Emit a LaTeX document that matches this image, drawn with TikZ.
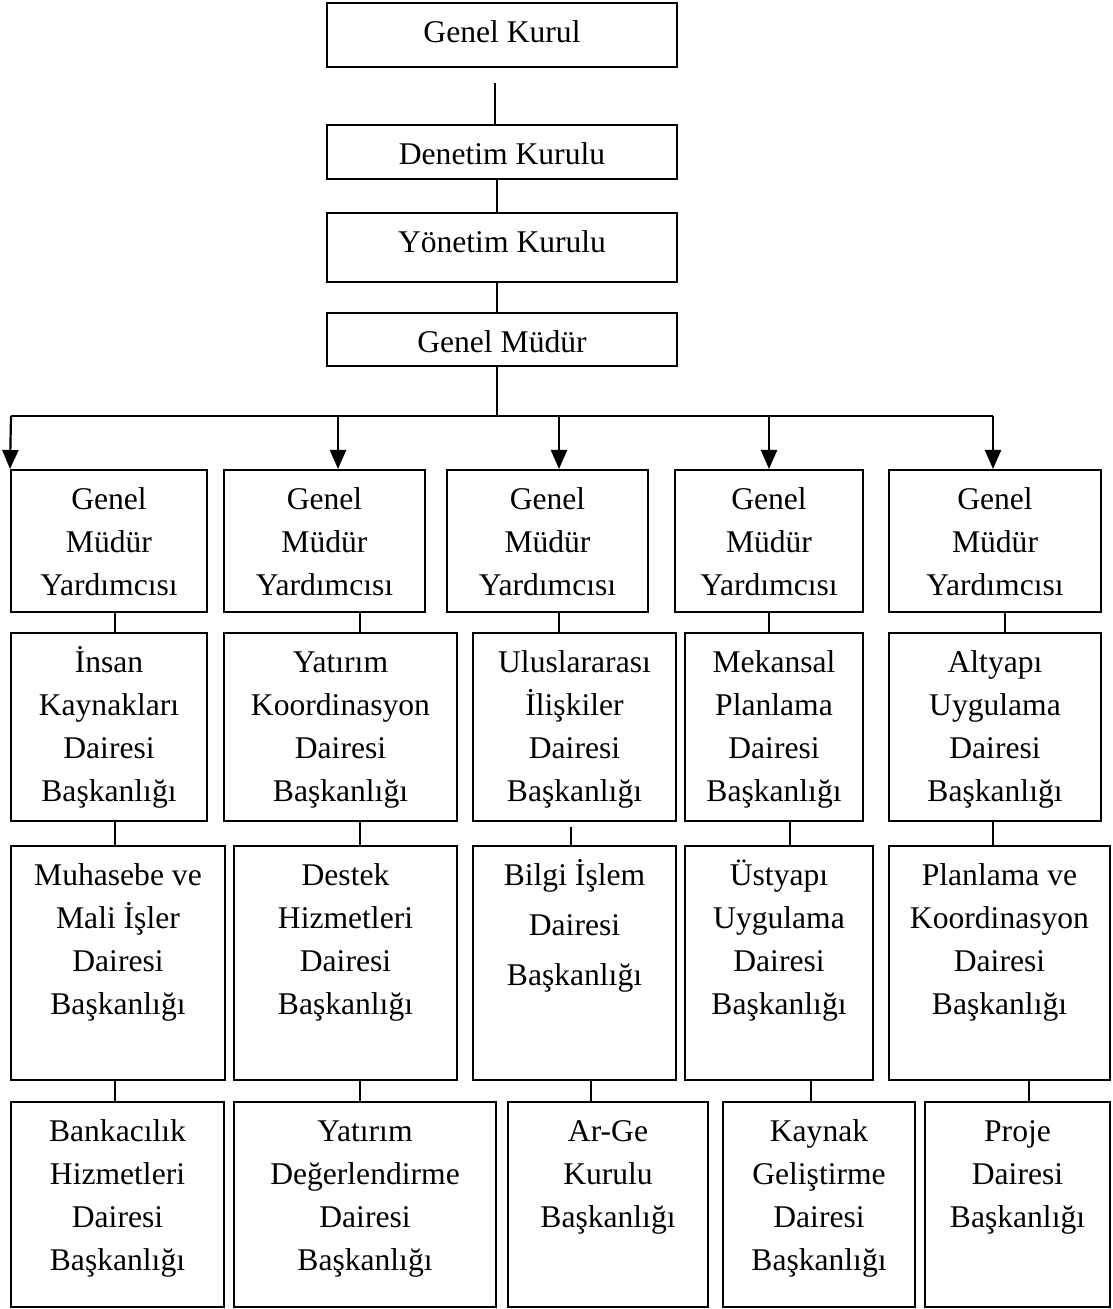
\documentclass[tikz,border=0pt]{standalone}
\usepackage{fontspec}
\setmainfont{Liberation Serif}
\usetikzlibrary{arrows.meta,fit}

\tikzset{
  unit/.style={draw, line width=1pt, inner sep=0pt},
  unittext/.style={anchor=north, align=center, inner sep=0pt, font=\fontsize{15.8}{21.5}\selectfont},
  link/.style={line width=0.7pt},
  bus/.style={line width=0.9pt},
  down/.style={line width=1.1pt, -{Triangle[length=9.5pt,width=8pt]}},
}

% box from corner (x1,y1) to (x2,y2), text hung from the top edge
\newcommand{\orgbox}[6]{%
  \node[unit, fit={(#2,#3) (#4,#5)}] (#1) {};
  \node[unittext] (#1-t) at ([yshift=-5pt]#1.north) {\rule{0pt}{15pt}#6};
}

\begin{document}
\begin{tikzpicture}[x=0.5pt,y=-0.5pt]
\useasboundingbox (0,0) rectangle (1112,1309);

% top of the chart
\orgbox{gk}{327}{3}{677}{67}{Genel Kurul}
\orgbox{dk}{327}{125}{677}{179}{Denetim Kurulu}
\orgbox{yk}{327}{213}{677}{282}{Yönetim Kurulu}
\orgbox{gm}{327}{313}{677}{366}{Genel Müdür}

\coordinate (gk-foot) at (495,83);
\draw[link] (gk-foot) -- (dk.north -| gk-foot);
\draw[link] (dk.south -| 497,0) -- (yk.north -| 497,0);
\draw[link] (yk.south -| 497,0) -- (gm.north -| 497,0);

% row 1
\orgbox{a1}{11}{470}{207}{612}{Genel\\Müdür\\Yardımcısı}
\orgbox{a2}{224}{470}{425}{612}{Genel\\Müdür\\Yardımcısı}
\orgbox{a3}{447}{470}{648}{612}{Genel\\Müdür\\Yardımcısı}
\orgbox{a4}{675}{470}{863}{612}{Genel\\Müdür\\Yardımcısı}
\orgbox{a5}{889}{470}{1101}{612}{Genel\\Müdür\\Yardımcısı}

\coordinate (bus-l) at (11,416);
\coordinate (bus-r) at (993,416);
\draw[link] (gm.south -| 497,0) -- (bus-l -| 497,0);
\draw[bus] (bus-l) -- (bus-r);
\draw[down] (bus-l) -- (a1.north west);
\draw[down] (bus-l -| 338,0) -- (a2.north -| 338,0);
\draw[down] (bus-l -| 559,0) -- (a3.north -| 559,0);
\draw[down] (bus-l -| 769,0) -- (a4.north -| 769,0);
\draw[down] (bus-r) -- (a5.north -| bus-r);

% row 2
\orgbox{b1}{11}{633}{207}{821}{İnsan\\Kaynakları\\Dairesi\\Başkanlığı}
\orgbox{b2}{224}{633}{457}{821}{Yatırım\\Koordinasyon\\Dairesi\\Başkanlığı}
\orgbox{b3}{473}{633}{676}{821}{Uluslararası\\İlişkiler\\Dairesi\\Başkanlığı}
\orgbox{b4}{685}{633}{863}{821}{Mekansal\\Planlama\\Dairesi\\Başkanlığı}
\orgbox{b5}{889}{633}{1101}{821}{Altyapı\\Uygulama\\Dairesi\\Başkanlığı}

\draw[link] (a1.south -| 115,0) -- (b1.north -| 115,0);
\draw[link] (a2.south -| 360,0) -- (b2.north -| 360,0);
\draw[link] (a3.south -| 559,0) -- (b3.north -| 559,0);
\draw[link] (a4.south -| 769,0) -- (b4.north -| 769,0);
\draw[link] (a5.south -| 1005,0) -- (b5.north -| 1005,0);

% row 3
\orgbox{c1}{11}{846}{225}{1080}{Muhasebe ve\\Mali İşler\\Dairesi\\Başkanlığı}
\orgbox{c2}{234}{846}{457}{1080}{Destek\\Hizmetleri\\Dairesi\\Başkanlığı}
\orgbox{c3}{473}{846}{676}{1080}{Bilgi İşlem\\[3.5pt]Dairesi\\[3.5pt]Başkanlığı}
\orgbox{c4}{685}{846}{873}{1080}{Üstyapı\\Uygulama\\Dairesi\\Başkanlığı}
\orgbox{c5}{889}{846}{1110}{1080}{Planlama ve\\Koordinasyon\\Dairesi\\Başkanlığı}

\coordinate (c3-head) at (571,827);
\draw[link] (b1.south -| 115,0) -- (c1.north -| 115,0);
\draw[link] (b2.south -| 360,0) -- (c2.north -| 360,0);
\draw[link] (c3-head) -- (c3.north -| c3-head);
\draw[link] (b4.south -| 790,0) -- (c4.north -| 790,0);
\draw[link] (b5.south -| 993,0) -- (c5.north -| 993,0);

% row 4
\orgbox{d1}{11}{1102}{224}{1307}{Bankacılık\\Hizmetleri\\Dairesi\\Başkanlığı}
\orgbox{d2}{234}{1102}{496}{1307}{Yatırım\\Değerlendirme\\Dairesi\\Başkanlığı}
\orgbox{d3}{508}{1102}{708}{1307}{Ar-Ge\\Kurulu\\Başkanlığı}
\orgbox{d4}{723}{1102}{915}{1307}{Kaynak\\Geliştirme\\Dairesi\\Başkanlığı}
\orgbox{d5}{925}{1102}{1110}{1307}{Proje\\Dairesi\\Başkanlığı}

\draw[link] (c1.south -| 115,0) -- (d1.north -| 115,0);
\draw[link] (c2.south -| 360,0) -- (d2.north -| 360,0);
\draw[link] (c3.south -| 591,0) -- (d3.north -| 591,0);
\draw[link] (c4.south -| 811,0) -- (d4.north -| 811,0);
\draw[link] (c5.south -| 1029,0) -- (d5.north -| 1029,0);

\end{tikzpicture}
\end{document}
